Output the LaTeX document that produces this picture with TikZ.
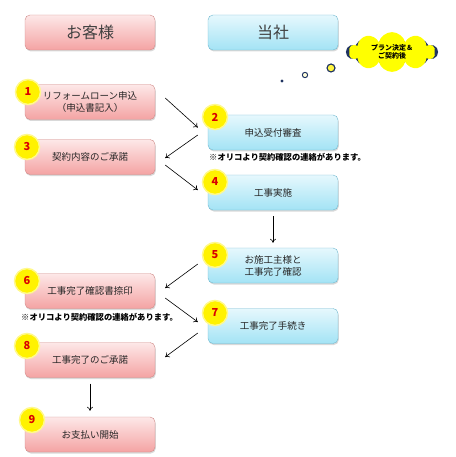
\documentclass[tikz,border=0pt]{standalone}
\usepackage{fontspec}
\setmainfont{Noto Sans CJK JP}
\usetikzlibrary{shapes.symbols,shadows,calc,arrows.meta}
\definecolor{pinkTop}{HTML}{FDE8E8}
\definecolor{pinkBot}{HTML}{F4A3A3}
\definecolor{pinkLine}{HTML}{D08A88}
\definecolor{blueTop}{HTML}{E6F8FD}
\definecolor{blueBot}{HTML}{A3E3F5}
\definecolor{blueLine}{HTML}{6FB8CF}
\definecolor{cloudLine}{rgb}{0.12,0.2,0.38}
\definecolor{cloudFill}{rgb}{1,1,0}
\begin{document}
\begin{tikzpicture}[x=1pt,y=-1pt,
  basebox/.style={rectangle, rounded corners=5pt, minimum width=130pt, minimum height=35pt,
    align=center, text=black!85, font=\fontsize{9.5}{12}\selectfont,
    drop shadow={shadow xshift=0.8pt, shadow yshift=-1.5pt, opacity=0.3}},
  pinkbox/.style={basebox, draw=pinkLine, top color=pinkTop, bottom color=pinkBot},
  bluebox/.style={basebox, draw=blueLine, top color=blueTop, bottom color=blueBot},
  headfont/.style={font=\fontsize{16}{18}\selectfont, text=black!75},
  numdot/.style={circle, minimum size=25pt, inner sep=0pt, fill=yellow, draw=yellow!45, line width=1.5pt,
    text=red!85!black, font=\fontsize{11}{12}\selectfont\bfseries},
  notefont/.style={font=\fontsize{8.3}{9}\selectfont\bfseries, text=black, anchor=west, inner sep=0pt},
  flow/.style={-{To[length=4pt,width=6pt]}, line width=0.6pt, black},
  cloudshape/.style={cloud, cloud puffs=10, aspect=2.2, minimum width=86pt, minimum height=30pt, inner sep=0pt}]
\useasboundingbox (0,0) rectangle (455,457);

% headers
\node[pinkbox, headfont] (h1) at (90,32.5) {お客様};
\node[bluebox, headfont] (h2) at (273,32.5) {当社};

% cloud and thought dots
\node[cloudshape, draw=cloudLine, line width=4pt] (clline) at (392,52) {};
\node[cloudshape, fill=cloudFill, align=center,
  font=\fontsize{7}{8.5}\selectfont\bfseries] (cl) at (392,52) {プラン決定＆\\ご契約後};
\fill[cloudLine] (331,68) circle (4.6pt);
\fill[yellow!75] (331,68) circle (3.2pt);
\fill[cloudLine] (305,75) circle (3.2pt);
\fill[yellow!15] (305,75) circle (2pt);
\fill[cloudLine] (282,81) circle (1.7pt);

% left boxes
\node[pinkbox] (b1) at (90,102) {リフォームローン申込\\（申込書記入）};
\node[pinkbox] (b3) at (90,157) {契約内容のご承諾};
\node[pinkbox] (b6) at (90,291) {工事完了確認書捺印};
\node[pinkbox] (b8) at (90,360) {工事完了のご承諾};
\node[pinkbox] (b9) at (90,434.5) {お支払い開始};

% right boxes
\node[bluebox] (b2) at (273,132.5) {申込受付審査};
\node[bluebox] (b4) at (273,192.5) {工事実施};
\node[bluebox] (b5) at (273,265.5) {お施工主様と\\工事完了確認};
\node[bluebox] (b7) at (273,326) {工事完了手続き};

% numbers
\node[numdot] (n1) at (28,92) {1};
\node[numdot] (n2) at (215,117) {2};
\node[numdot] (n3) at (27,147) {3};
\node[numdot] (n4) at (215,182) {4};
\node[numdot] (n5) at (215,255) {5};
\node[numdot] (n6) at (27,281) {6};
\node[numdot] (n7) at (215,313) {7};
\node[numdot] (n8) at (27,346) {8};
\node[numdot] (n9) at (32,420) {9};

% notes
\node[notefont] (t1) at (209,157) {※オリコより契約確認の連絡があります。};
\node[notefont] (t2) at (21,317) {※オリコより契約確認の連絡があります。};

% connectors
\draw[flow] ($(b1.east)+(10,-4)$) -- ($(b2.west)+(-10,-5)$);
\draw[flow] ($(b2.west)+(-10,2.5)$) -- ($(b3.east)+(10,1)$);
\draw[flow] ($(b3.east)+(10,8)$) -- ($(b4.west)+(-10,-2.5)$);
\draw[flow] ($(b4.south)+(0,6)$) -- ($(b5.north)+(0,-5)$);
\draw[flow] ($(b5.west)+(-10,-1.5)$) -- ($(b6.east)+(10,-3)$);
\draw[flow] ($(b6.east)+(10,7)$) -- ($(b7.west)+(-10,-4)$);
\draw[flow] ($(b7.west)+(-10,7)$) -- ($(b8.east)+(10,-3)$);
\draw[flow] ($(b8.south)+(0,6)$) -- ($(b9.north)+(0,-6)$);
\end{tikzpicture}
\end{document}
